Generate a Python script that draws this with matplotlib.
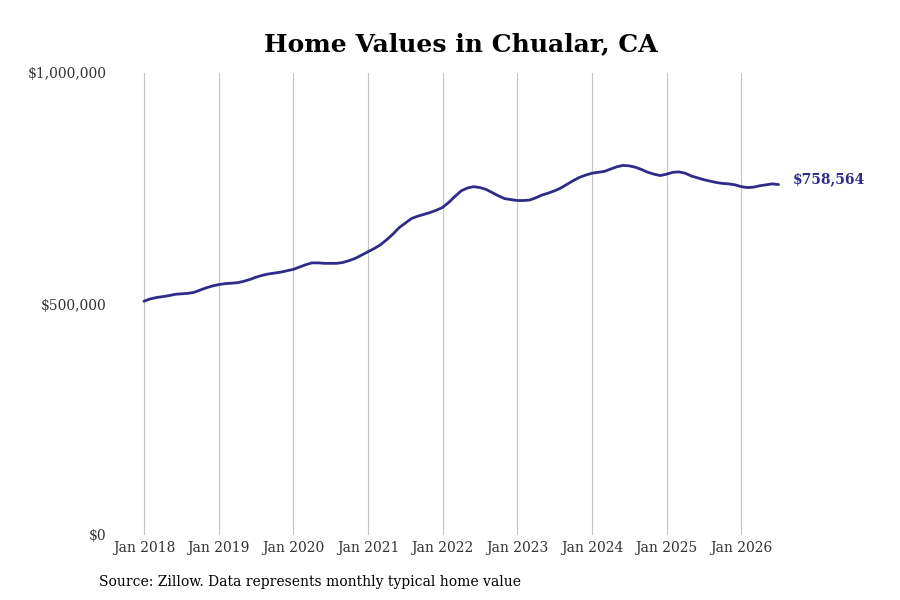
import numpy as np
import matplotlib
matplotlib.use("Agg")
import matplotlib.pyplot as plt
from matplotlib.ticker import FuncFormatter

plt.rcParams["font.family"] = "DejaVu Serif"

# monthly typical home value, Jan 2018 .. Jul 2026
values = [
    506000, 511000, 514000, 516000, 518000, 521000, 522000, 523000, 525000, 530000, 535000, 539000,
    542000, 544000, 545000, 546000, 549000, 553000, 558000, 562000, 565000, 567000, 569000, 572000,
    575000, 580000, 585000, 589000, 589000, 588000, 588000, 588000, 590000, 594000, 599000, 606000,
    613000, 620000, 628000, 639000, 651000, 665000, 675000, 685000, 690000, 694000, 698000, 703000,
    709000, 720000, 733000, 745000, 751000, 754000, 752000, 748000, 741000, 734000, 728000, 726000,
    724000, 724000, 725000, 730000, 736000, 740000, 745000, 751000, 759000, 767000, 774000, 779000,
    783000, 785000, 787000, 792000, 797000, 800000, 799000, 796000, 791000, 785000, 781000, 778000,
    781000, 785000, 786000, 783000, 777000, 773000, 769000, 766000, 763000, 761000, 760000, 758000,
    754000, 752000, 753000, 756000, 758000, 760000, 758564,
]
years = list(range(2018, 2027))
year_labels = [f"Jan {y}" for y in years]

LINE = "#2f2b88"
months = np.arange(len(values))

fig = plt.figure(figsize=(9, 6), dpi=100)
ax = fig.add_axes([115 / 900, 65 / 600, 745 / 900, 462 / 600])

ax.plot(months, values, color=LINE, lw=2.0, solid_capstyle="round",
        solid_joinstyle="round")
ax.annotate(f"${values[-1]:,.0f}", xy=(months[-1], values[-1]),
            xytext=(10, 4), textcoords="offset points",
            ha="left", va="center", color=LINE, fontsize=10,
            fontweight="bold")

ax.set_xlim(-4.66, 115.1)
ax.set_ylim(0, 1_000_000)
ax.set_xticks([12 * i for i in range(len(years))])
ax.set_xticklabels(year_labels)
ax.set_yticks([0, 500_000, 1_000_000])
ax.yaxis.set_major_formatter(FuncFormatter(lambda v, _: f"${v:,.0f}"))
ax.tick_params(length=0, labelsize=10, colors="#333333")
ax.tick_params(axis="y", pad=6)
ax.tick_params(axis="x", pad=4)
ax.grid(axis="x", color="#c4c4c4", lw=0.8)
for s in ax.spines.values():
    s.set_visible(False)

fig.text(461 / 900, 1 - 44 / 600, "Home Values in Chualar, CA",
         ha="center", va="center", fontsize=18, fontweight="bold")
fig.text(99 / 900, 1 - 582 / 600,
         "Source: Zillow. Data represents monthly typical home value",
         ha="left", va="center", fontsize=10)

fig.savefig("out.png", dpi=100)
